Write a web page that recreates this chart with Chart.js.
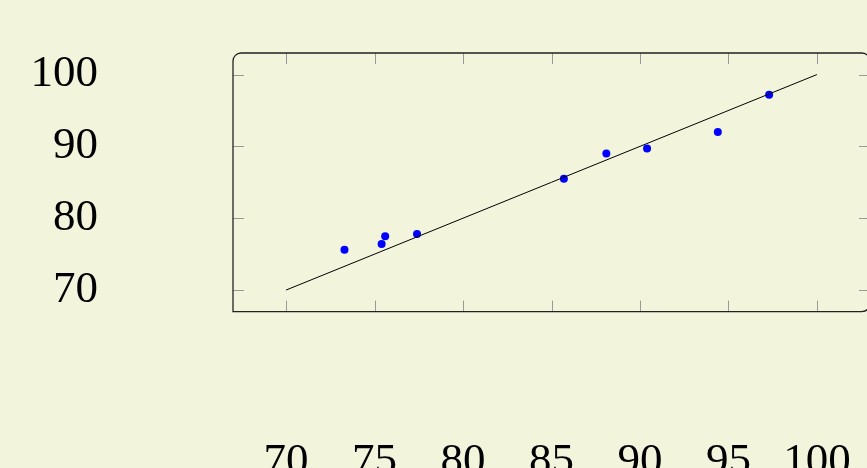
<!DOCTYPE html>
<html lang="en">
<head>
  <meta charset="UTF-8" />
  <title>Scatter with fit line</title>
  <style>
    html, body {
      margin: 0;
      padding: 0;
      overflow: hidden;
      background-color: #f2f5dc;
    }
    canvas { display: block; }
  </style>
</head>
<body>
  <canvas id="chart" width="890" height="520"></canvas>

  <script src="https://cdn.jsdelivr.net/npm/chart.js"></script>
  <script>
    // measured points
    const xValues = [73.3, 75.4, 75.6, 77.4, 85.7, 88.1, 90.4, 94.4, 97.3];
    const yValues = [75.6, 76.4, 77.5, 77.8, 85.5, 89.0, 89.7, 92.0, 97.2];
    // fit line
    const fitX = [70, 100];
    const fitY = [70, 100];
    // axes
    const xTicks = [70, 75, 80, 85, 90, 95, 100];
    const yTicks = [70, 80, 90, 100];
    const axisMin = 67;
    const axisMax = 103;

    const pts = xValues.map((x, i) => ({ x: x, y: yValues[i] }));
    const fitPts = fitX.map((x, i) => ({ x: x, y: fitY[i] }));

    // frame with rounded corners and inner tick marks
    const framePlugin = {
      id: 'frame',
      beforeDatasetsDraw(chart) {
        const { ctx, chartArea: a, scales: { x, y } } = chart;
        ctx.save();
        ctx.strokeStyle = '#999';
        ctx.lineWidth = 1;
        ctx.beginPath();
        x.ticks.forEach(t => {
          const px = Math.round(x.getPixelForValue(t.value)) + 0.5;
          ctx.moveTo(px, a.top); ctx.lineTo(px, a.top + 11);
          ctx.moveTo(px, a.bottom); ctx.lineTo(px, a.bottom - 11);
        });
        y.ticks.forEach(t => {
          const py = Math.round(y.getPixelForValue(t.value)) + 0.5;
          ctx.moveTo(a.left, py); ctx.lineTo(a.left + 11, py);
          ctx.moveTo(a.right, py); ctx.lineTo(a.right - 11, py);
        });
        ctx.stroke();
        ctx.strokeStyle = '#222';
        ctx.lineWidth = 1.3;
        ctx.beginPath();
        ctx.roundRect(a.left, a.top, a.right - a.left, a.bottom - a.top, [8, 8, 8, 0]);
        ctx.stroke();
        ctx.restore();
      }
    };

    const tickFont = { family: "'Liberation Serif', 'Times New Roman', serif", size: 45 };

    new Chart(document.getElementById('chart'), {
      type: 'scatter',
      data: {
        datasets: [
          {
            type: 'line',
            data: fitPts,
            borderColor: '#000',
            borderWidth: 1,
            pointRadius: 0,
            fill: false
          },
          {
            data: pts,
            backgroundColor: '#0000ff',
            borderColor: '#0000ff',
            pointRadius: 4,
            borderWidth: 0
          }
        ]
      },
      options: {
        responsive: false,
        animation: false,
        layout: { padding: { top: 53, right: 20, bottom: 0, left: 0 } },
        plugins: {
          legend: { display: false },
          tooltip: { enabled: false }
        },
        scales: {
          x: {
            type: 'linear',
            position: 'bottom',
            min: axisMin,
            max: axisMax,
            grid: { display: false, drawTicks: false },
            border: { display: false },
            afterBuildTicks: s => { s.ticks = xTicks.map(v => ({ value: v })); },
            afterFit: s => {
              s.height = 520 - 311.6;
              s.paddingLeft = 0;
              s.paddingRight = 0;
            },
            ticks: {
              autoSkip: false,
              maxRotation: 0,
              padding: 124,
              color: '#000',
              font: tickFont
            }
          },
          y: {
            type: 'linear',
            min: axisMin,
            max: axisMax,
            grid: { display: false, drawTicks: false },
            border: { display: false },
            afterBuildTicks: s => { s.ticks = yTicks.map(v => ({ value: v })); },
            afterFit: s => {
              s.width = 233;
              s.paddingTop = 0;
              s.paddingBottom = 0;
            },
            ticks: {
              autoSkip: false,
              padding: 135,
              color: '#000',
              font: tickFont
            }
          }
        }
      },
      plugins: [framePlugin]
    });
  </script>
</body>
</html>
